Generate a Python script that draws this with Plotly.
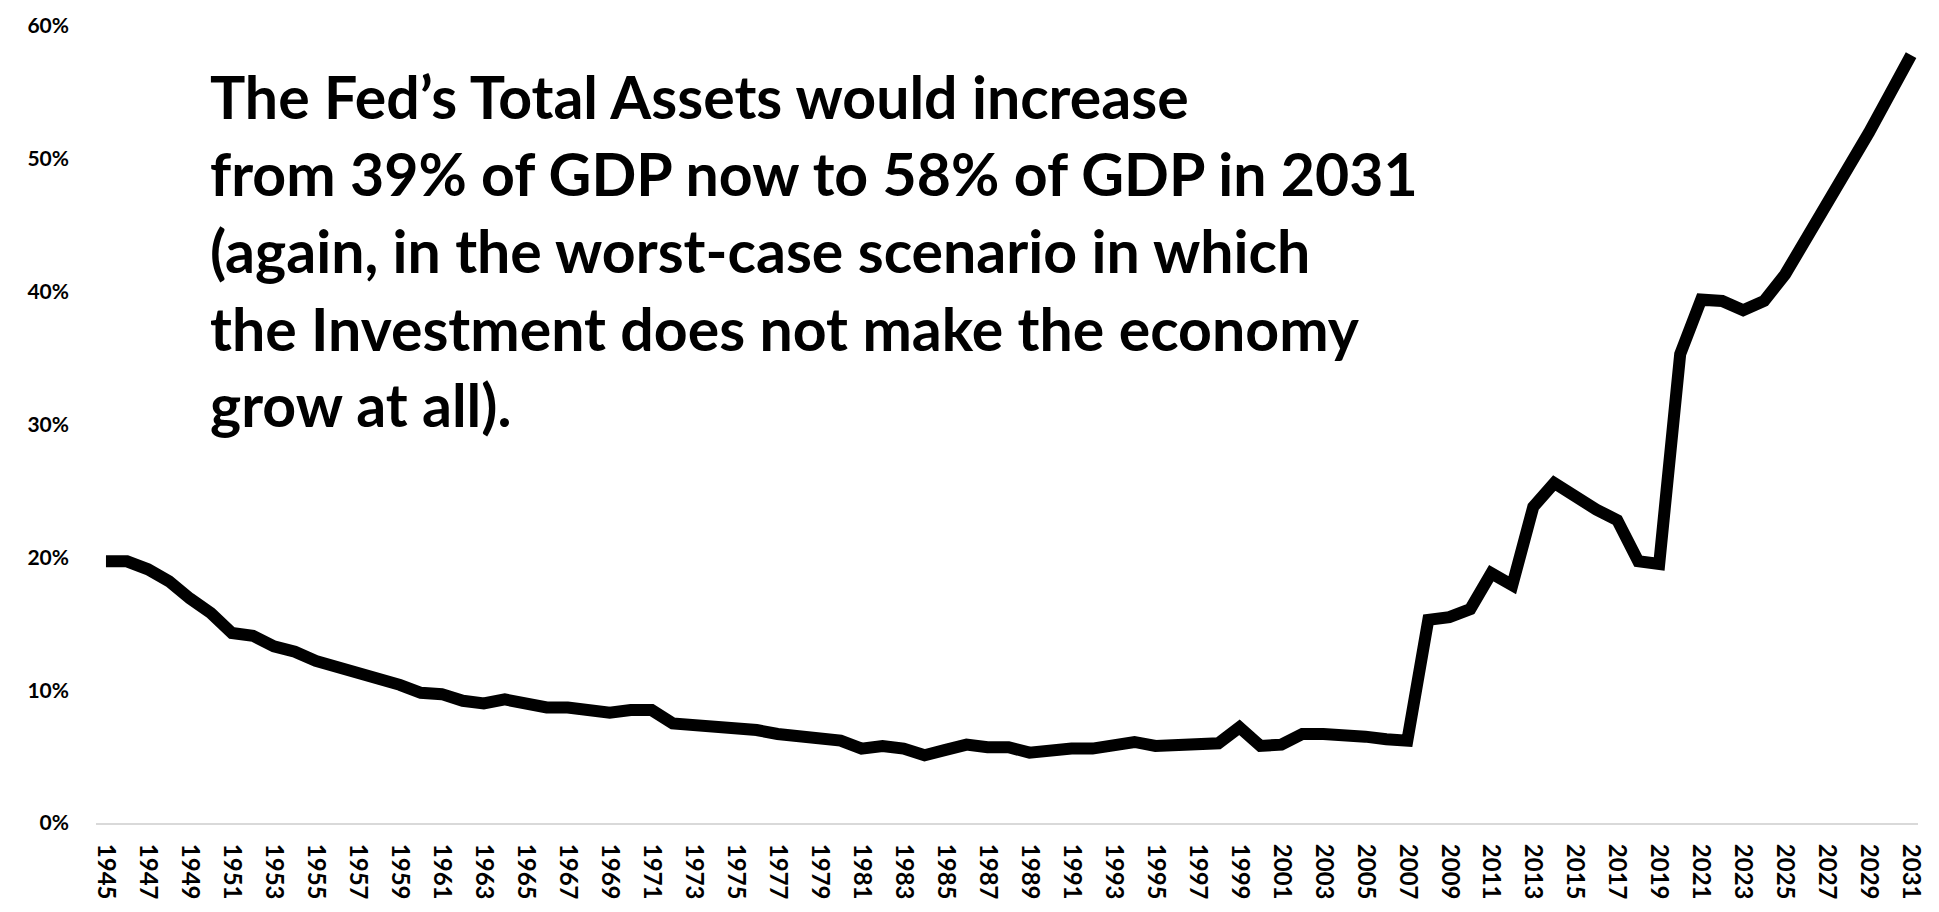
import plotly.graph_objects as go

years = list(range(1945, 2032))
fed_assets_pct_gdp = [
    19.7, 19.7, 19.1, 18.2, 16.9, 15.8, 14.3, 14.1, 13.3, 12.9,   # 1945-1954
    12.2, 11.8, 11.2, 10.9, 10.4, 9.8, 9.7, 9.2, 9.0, 9.3,        # 1955-1964
    8.9, 8.7, 8.7, 8.5, 8.3, 8.5, 8.5, 7.5, 7.4, 7.2,             # 1965-1974
    7.2, 7.0, 6.7, 6.5, 6.4, 6.2, 5.6, 5.8, 5.6, 5.1,             # 1975-1984
    5.5, 5.9, 5.7, 5.7, 5.3, 5.5, 5.6, 5.6, 5.8, 6.1,             # 1985-1994
    5.8, 5.8, 5.8, 6.0, 7.2, 5.8, 5.9, 6.7, 6.7, 6.7,             # 1995-2004
    6.5, 6.3, 6.2, 15.3, 15.5, 16.1, 18.8, 17.9, 23.8, 25.6,      # 2005-2014
    24.5, 23.6, 22.8, 19.7, 19.5, 35.3, 39.4, 39.3, 38.6, 39.3,   # 2015-2024
    41.3, 43.9, 46.5, 49.1, 52.0, 54.9, 57.8,                     # 2025-2031
]
x_tick_years = list(range(1945, 2032, 2))
y_ticks = [0, 10, 20, 30, 40, 50, 60]
y_tick_labels = [f"{v}%" for v in y_ticks]

text_lines = [
    "The Fed\u2019s Total Assets would increase",
    "from 39% of GDP now to 58% of GDP in 2031",
    "(again, in the worst-case scenario in which",
    "the Investment does not make the economy",
    "grow at all).",
]

W, H = 1939, 912
ML, MR, MT, MB = 96, 14, 21, 81
plot_h = H - MT - MB
plot_w = W - ML - MR

fig = go.Figure()
fig.add_trace(go.Scatter(
    x=years, y=fed_assets_pct_gdp, mode="lines",
    line=dict(color="black", width=12, shape="linear"),
    hoverinfo="x+y", showlegend=False,
))

line_centers_px = [93, 171, 249, 328, 406]
for txt, ypx in zip(text_lines, line_centers_px):
    fig.add_annotation(
        text=txt, xref="paper", yref="paper",
        x=(208 - ML) / plot_w, y=(H - MB - ypx) / plot_h,
        xanchor="left", yanchor="middle", showarrow=False,
        font=dict(family="Lato", size=59, color="black", weight="bold"),
    )

fig.update_layout(
    width=W, height=H,
    margin=dict(l=ML, r=MR, t=MT, b=MB, pad=0),
    paper_bgcolor="white", plot_bgcolor="white",
    xaxis=dict(
        range=[1944.525, 2031.33], tickmode="array", tickvals=x_tick_years,
        ticktext=[str(y) for y in x_tick_years], tickangle=90,
        tickfont=dict(family="Lato", size=24, color="black", weight="bold"),
        showgrid=False, zeroline=False, showline=True, linecolor="#d9d9d9",
        linewidth=2, ticks="", ticklabelstandoff=14,
    ),
    yaxis=dict(
        range=[0, 60], tickmode="array", tickvals=y_ticks, ticktext=y_tick_labels,
        tickfont=dict(family="Lato", size=21, color="black", weight="bold"),
        showgrid=False, zeroline=False, showline=False, ticks="",
        ticklabelstandoff=26,
    ),
)

fig.write_html("out.html")
